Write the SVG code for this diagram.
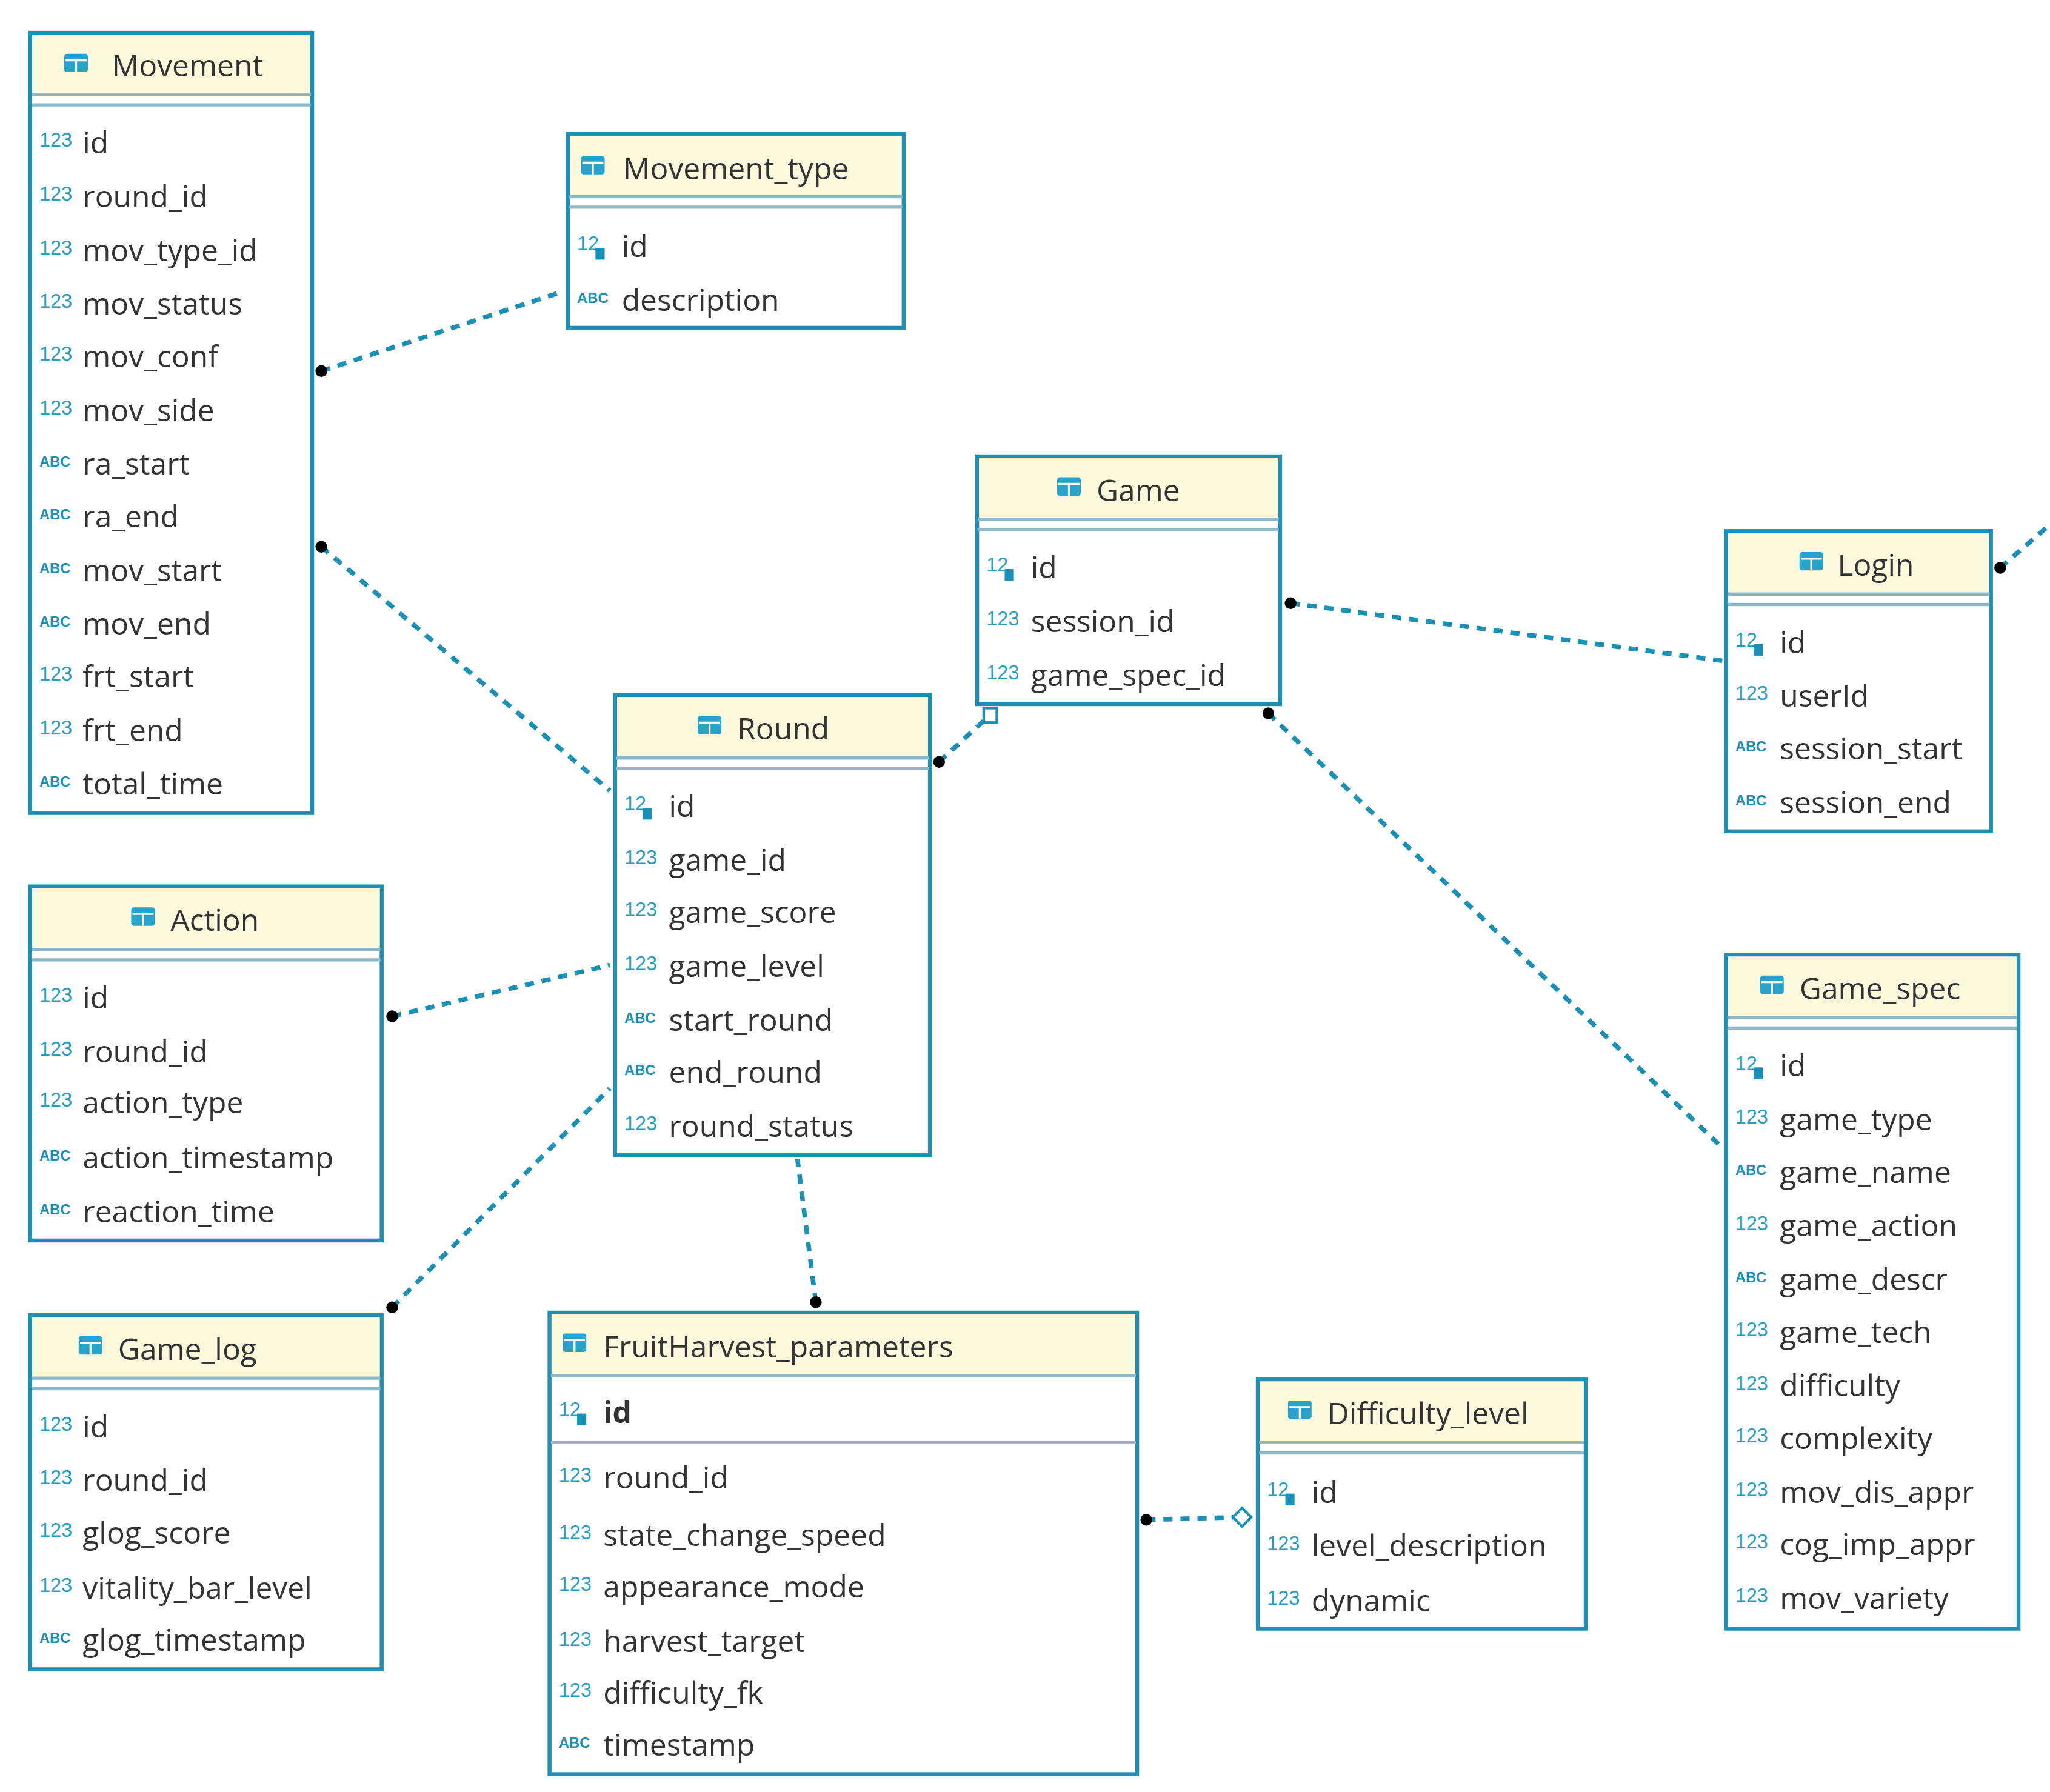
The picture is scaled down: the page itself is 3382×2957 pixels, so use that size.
<svg xmlns="http://www.w3.org/2000/svg" width="3382" height="2957" viewBox="0 0 3382 2957">
<style>
.box{fill:#fff;stroke:#1b8fb5;stroke-width:3}
.hd{fill:#fbf9dc}
.sep{stroke:#8fb8c6;stroke-width:2.5}
.t{font-family:"Open Sans","Noto Sans",sans-serif;font-size:23px;fill:#333}
.ti{font-family:"Open Sans","Noto Sans",sans-serif;font-size:23px;fill:#333;text-anchor:middle}
.n{font-family:"Liberation Sans",sans-serif;font-size:15px;fill:#2a9cc0}
.a{font-family:"Liberation Sans",sans-serif;font-size:11px;font-weight:bold;fill:#1b8fb5}
.c{fill:none;stroke:#1b8fb5;stroke-width:3.5;stroke-dasharray:7,6}
.ic{fill:#fff;stroke:#1b8fb5;stroke-width:2}
</style>
<defs>
<g id="tbl"><rect x="0" y="0" width="18" height="14" rx="2" fill="#2aa3cc"/><line x1="1" y1="5" x2="17" y2="5" stroke="#fff" stroke-width="1.5"/><line x1="9" y1="5" x2="9" y2="14" stroke="#fff" stroke-width="1.5"/></g>
<g id="key"><rect x="8" y="-6" width="7" height="9" fill="#1b8fb5"/></g>
</defs>
<g transform="scale(2.1638)">
<g id="connectors">
<path class="c" d="M245 283 L430 222"/>
<path class="c" d="M245 417 L465 603"/>
<path class="c" d="M716 581 L754 546"/>
<path class="c" d="M984 460 L1314 504"/>
<path class="c" d="M967 544 L1314 876"/>
<path class="c" d="M1525 433 L1563 400"/>
<path class="c" d="M299 775 L465 736"/>
<path class="c" d="M299 997 L465 830"/>
<path class="c" d="M622 993 L608 884"/>
<path class="c" d="M874 1159 L944 1157"/>
<circle cx="245" cy="283" r="4.5"/><circle cx="245" cy="417" r="4.5"/><circle cx="716" cy="581" r="4.5"/>
<circle cx="984" cy="460" r="4.5"/><circle cx="967" cy="544" r="4.5"/><circle cx="1525" cy="433" r="4.5"/>
<circle cx="299" cy="775" r="4.5"/><circle cx="299" cy="997" r="4.5"/><circle cx="622" cy="993" r="4.5"/><circle cx="874" cy="1159" r="4.5"/>
<rect x="750" y="540" width="10" height="11" class="ic"/>
<path d="M940 1157 L947 1150 L954 1157 L947 1164 Z" class="ic"/>
</g>

<g id="Movement">
<rect class="box" x="23" y="25" width="215" height="595"/>
<rect class="hd" x="24.5" y="26.5" width="212" height="44"/>
<line class="sep" x1="24" y1="72" x2="237" y2="72"/><line class="sep" x1="24" y1="80" x2="237" y2="80"/>
<use href="#tbl" x="49" y="41"/><text class="ti" x="143" y="58">Movement</text>
<text class="n" x="30" y="112">123</text><text class="t" x="63" y="117">id</text>
<text class="n" x="30" y="153">123</text><text class="t" x="63" y="158">round_id</text>
<text class="n" x="30" y="194">123</text><text class="t" x="63" y="199">mov_type_id</text>
<text class="n" x="30" y="235">123</text><text class="t" x="63" y="240">mov_status</text>
<text class="n" x="30" y="275">123</text><text class="t" x="63" y="280">mov_conf</text>
<text class="n" x="30" y="316">123</text><text class="t" x="63" y="321">mov_side</text>
<text class="a" x="30" y="356">ABC</text><text class="t" x="63" y="362">ra_start</text>
<text class="a" x="30" y="396">ABC</text><text class="t" x="63" y="402">ra_end</text>
<text class="a" x="30" y="437">ABC</text><text class="t" x="63" y="443">mov_start</text>
<text class="a" x="30" y="478">ABC</text><text class="t" x="63" y="484">mov_end</text>
<text class="n" x="30" y="519">123</text><text class="t" x="63" y="524">frt_start</text>
<text class="n" x="30" y="560">123</text><text class="t" x="63" y="565">frt_end</text>
<text class="a" x="30" y="600">ABC</text><text class="t" x="63" y="606">total_time</text>
</g>

<g id="Movement_type">
<rect class="box" x="433" y="102" width="256" height="148"/>
<rect class="hd" x="434.5" y="103.5" width="253" height="45"/>
<line class="sep" x1="434" y1="150" x2="688" y2="150"/><line class="sep" x1="434" y1="158" x2="688" y2="158"/>
<use href="#tbl" x="443" y="119"/><text class="t" x="475" y="137">Movement_type</text>
<text class="n" x="440" y="191">12</text><use href="#key" x="446" y="195"/><text class="t" x="474" y="196">id</text>
<text class="a" x="440" y="231">ABC</text><text class="t" x="474" y="237">description</text>
</g>

<g id="Game">
<rect class="box" x="745" y="348" width="231" height="189"/>
<rect class="hd" x="746.5" y="349.5" width="228" height="45"/>
<line class="sep" x1="746" y1="396" x2="975" y2="396"/><line class="sep" x1="746" y1="404" x2="975" y2="404"/>
<use href="#tbl" x="806" y="364"/><text class="t" x="836" y="382">Game</text>
<text class="n" x="752" y="436">12</text><use href="#key" x="758" y="440"/><text class="t" x="786" y="441">id</text>
<text class="n" x="752" y="477">123</text><text class="t" x="786" y="482">session_id</text>
<text class="n" x="752" y="518">123</text><text class="t" x="786" y="523">game_spec_id</text>
</g>

<g id="Login">
<rect class="box" x="1316" y="405" width="202" height="229"/>
<rect class="hd" x="1317.5" y="406.5" width="199" height="45"/>
<line class="sep" x1="1317" y1="453" x2="1517" y2="453"/><line class="sep" x1="1317" y1="461" x2="1517" y2="461"/>
<use href="#tbl" x="1372" y="421"/><text class="t" x="1401" y="439">Login</text>
<text class="n" x="1323" y="493">12</text><use href="#key" x="1329" y="497"/><text class="t" x="1357" y="498">id</text>
<text class="n" x="1323" y="534">123</text><text class="t" x="1357" y="539">userId</text>
<text class="a" x="1323" y="573">ABC</text><text class="t" x="1357" y="579">session_start</text>
<text class="a" x="1323" y="614">ABC</text><text class="t" x="1357" y="620">session_end</text>
</g>

<g id="Round">
<rect class="box" x="469" y="530" width="240" height="351"/>
<rect class="hd" x="470.5" y="531.5" width="237" height="45"/>
<line class="sep" x1="470" y1="578" x2="708" y2="578"/><line class="sep" x1="470" y1="586" x2="708" y2="586"/>
<use href="#tbl" x="532" y="546"/><text class="t" x="562" y="564">Round</text>
<text class="n" x="476" y="618">12</text><use href="#key" x="482" y="622"/><text class="t" x="510" y="623">id</text>
<text class="n" x="476" y="659">123</text><text class="t" x="510" y="664">game_id</text>
<text class="n" x="476" y="699">123</text><text class="t" x="510" y="704">game_score</text>
<text class="n" x="476" y="740">123</text><text class="t" x="510" y="745">game_level</text>
<text class="a" x="476" y="780">ABC</text><text class="t" x="510" y="786">start_round</text>
<text class="a" x="476" y="820">ABC</text><text class="t" x="510" y="826">end_round</text>
<text class="n" x="476" y="862">123</text><text class="t" x="510" y="867">round_status</text>
</g>

<g id="Action">
<rect class="box" x="23" y="676" width="268" height="270"/>
<rect class="hd" x="24.5" y="677.5" width="265" height="45"/>
<line class="sep" x1="24" y1="724" x2="290" y2="724"/><line class="sep" x1="24" y1="732" x2="290" y2="732"/>
<use href="#tbl" x="100" y="692"/><text class="t" x="130" y="710">Action</text>
<text class="n" x="30" y="764">123</text><text class="t" x="63" y="769">id</text>
<text class="n" x="30" y="805">123</text><text class="t" x="63" y="810">round_id</text>
<text class="n" x="30" y="844">123</text><text class="t" x="63" y="849">action_type</text>
<text class="a" x="30" y="885">ABC</text><text class="t" x="63" y="891">action_timestamp</text>
<text class="a" x="30" y="926">ABC</text><text class="t" x="63" y="932">reaction_time</text>
</g>

<g id="Game_spec">
<rect class="box" x="1316" y="728" width="223" height="514"/>
<rect class="hd" x="1317.5" y="729.5" width="220" height="45"/>
<line class="sep" x1="1317" y1="776" x2="1538" y2="776"/><line class="sep" x1="1317" y1="784" x2="1538" y2="784"/>
<use href="#tbl" x="1342" y="744"/><text class="t" x="1372" y="762">Game_spec</text>
<text class="n" x="1323" y="816">12</text><use href="#key" x="1329" y="820"/><text class="t" x="1357" y="821">id</text>
<text class="n" x="1323" y="857">123</text><text class="t" x="1357" y="862">game_type</text>
<text class="a" x="1323" y="896">ABC</text><text class="t" x="1357" y="902">game_name</text>
<text class="n" x="1323" y="938">123</text><text class="t" x="1357" y="943">game_action</text>
<text class="a" x="1323" y="978">ABC</text><text class="t" x="1357" y="984">game_descr</text>
<text class="n" x="1323" y="1019">123</text><text class="t" x="1357" y="1024">game_tech</text>
<text class="n" x="1323" y="1060">123</text><text class="t" x="1357" y="1065">difficulty</text>
<text class="n" x="1323" y="1100">123</text><text class="t" x="1357" y="1105">complexity</text>
<text class="n" x="1323" y="1141">123</text><text class="t" x="1357" y="1146">mov_dis_appr</text>
<text class="n" x="1323" y="1181">123</text><text class="t" x="1357" y="1186">cog_imp_appr</text>
<text class="n" x="1323" y="1222">123</text><text class="t" x="1357" y="1227">mov_variety</text>
</g>

<g id="Game_log">
<rect class="box" x="23" y="1003" width="268" height="270"/>
<rect class="hd" x="24.5" y="1004.5" width="265" height="45"/>
<line class="sep" x1="24" y1="1051" x2="290" y2="1051"/><line class="sep" x1="24" y1="1059" x2="290" y2="1059"/>
<use href="#tbl" x="60" y="1019"/><text class="t" x="90" y="1037">Game_log</text>
<text class="n" x="30" y="1091">123</text><text class="t" x="63" y="1096">id</text>
<text class="n" x="30" y="1132">123</text><text class="t" x="63" y="1137">round_id</text>
<text class="n" x="30" y="1172">123</text><text class="t" x="63" y="1177">glog_score</text>
<text class="n" x="30" y="1214">123</text><text class="t" x="63" y="1219">vitality_bar_level</text>
<text class="a" x="30" y="1253">ABC</text><text class="t" x="63" y="1259">glog_timestamp</text>
</g>

<g id="FruitHarvest_parameters">
<rect class="box" x="419" y="1001" width="448" height="352"/>
<rect class="hd" x="420.5" y="1002.5" width="445" height="45"/>
<line class="sep" x1="420" y1="1049" x2="866" y2="1049"/>
<line class="sep" x1="420" y1="1100" x2="866" y2="1100"/>
<use href="#tbl" x="429" y="1017"/><text class="t" x="460" y="1035">FruitHarvest_parameters</text>
<text class="n" x="426" y="1080">12</text><use href="#key" x="432" y="1084"/><text class="t" x="460" y="1085" font-weight="bold">id</text>
<text class="n" x="426" y="1130">123</text><text class="t" x="460" y="1135">round_id</text>
<text class="n" x="426" y="1174">123</text><text class="t" x="460" y="1179">state_change_speed</text>
<text class="n" x="426" y="1213">123</text><text class="t" x="460" y="1218">appearance_mode</text>
<text class="n" x="426" y="1255">123</text><text class="t" x="460" y="1260">harvest_target</text>
<text class="n" x="426" y="1294">123</text><text class="t" x="460" y="1299">difficulty_fk</text>
<text class="a" x="426" y="1333">ABC</text><text class="t" x="460" y="1339">timestamp</text>
</g>

<g id="Difficulty_level">
<rect class="box" x="959" y="1052" width="250" height="190"/>
<rect class="hd" x="960.5" y="1053.5" width="247" height="45"/>
<line class="sep" x1="960" y1="1100" x2="1208" y2="1100"/><line class="sep" x1="960" y1="1108" x2="1208" y2="1108"/>
<use href="#tbl" x="982" y="1068"/><text class="t" x="1012" y="1086">Difficulty_level</text>
<text class="n" x="966" y="1141">12</text><use href="#key" x="972" y="1145"/><text class="t" x="1000" y="1146">id</text>
<text class="n" x="966" y="1182">123</text><text class="t" x="1000" y="1187">level_description</text>
<text class="n" x="966" y="1224">123</text><text class="t" x="1000" y="1229">dynamic</text>
</g>
</g>
</svg>
